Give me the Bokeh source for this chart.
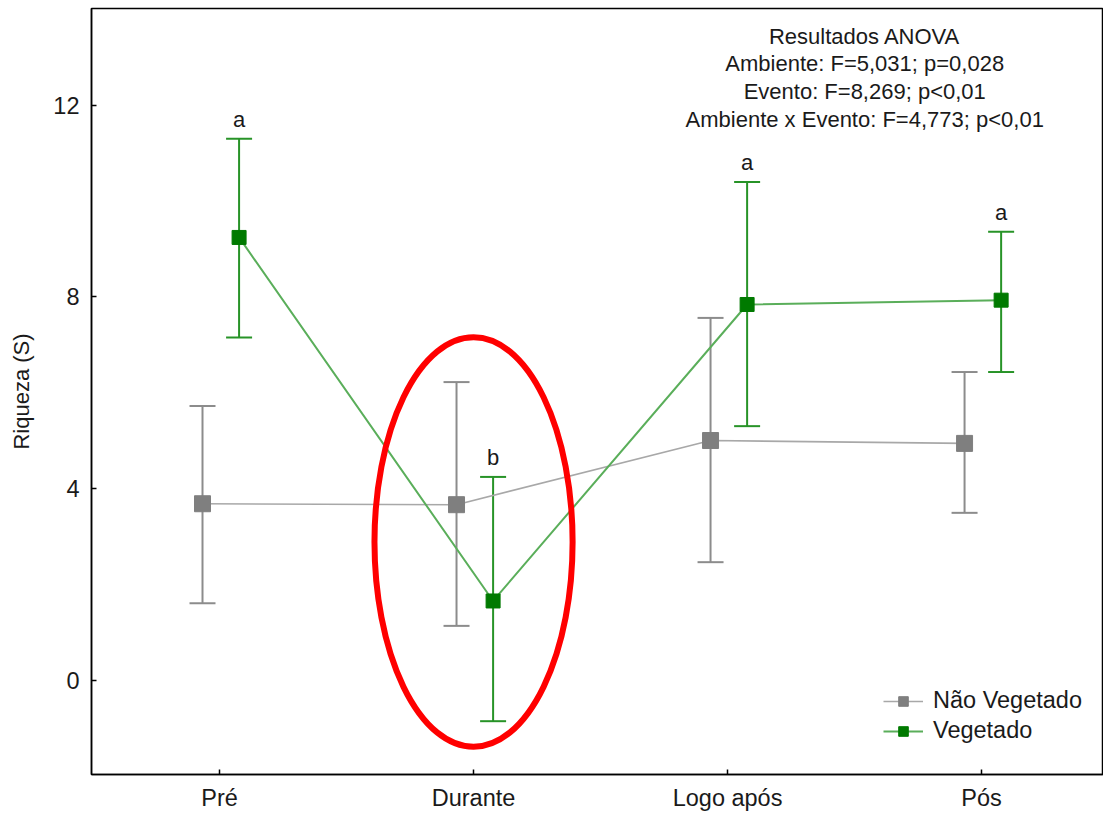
from bokeh.plotting import figure
from bokeh.models import ColumnDataSource, Whisker, TeeHead, Range1d, Legend, LegendItem, Label
from bokeh.embed import file_html
from bokeh.resources import INLINE
from bokeh.core.properties import value

# ---------------- data ----------------
categories = ["Pré", "Durante", "Logo após", "Pós"]
series_names = ["Não Vegetado", "Vegetado"]

nv_mean = [3.68, 3.66, 5.00, 4.94]
nv_upper = [5.72, 6.22, 7.56, 6.43]
nv_lower = [1.60, 1.13, 2.46, 3.49]

v_mean = [9.24, 1.65, 7.84, 7.93]
v_upper = [11.30, 4.24, 10.40, 9.36]
v_lower = [7.15, -0.86, 5.30, 6.43]
v_letters = ["a", "b", "a", "a"]

y_ticks = [0, 4, 8, 12]
y_label = "Riqueza (S)"

anova_lines = [
    "Resultados ANOVA",
    "Ambiente: F=5,031; p=0,028",
    "Evento: F=8,269; p<0,01",
    "Ambiente x Evento: F=4,773; p<0,01",
]

highlight_category = "Durante"
highlight_center_y = 2.88
highlight_width = 0.78
highlight_height = 8.55

# ---------------- style ----------------
FONT = "Liberation Sans"
TXT = "#1a1a1a"
NV_LINE, NV_BAR, NV_MARK = "#a8a8a8", "#8c8c8c", "#7f7f7f"
V_LINE, V_BAR, V_MARK = "#5aae5a", "#279327", "#007a00"
off_nv, off_v = -0.067, 0.077

idx = list(range(len(categories)))
nv_x = [i + off_nv for i in idx]
v_x = [i + off_v for i in idx]

p = figure(width=1103, height=814, output_backend="svg", toolbar_location=None,
           x_range=Range1d(-0.504, 3.48), y_range=Range1d(-1.973, 14.02),
           min_border_left=91, min_border_right=0, min_border_top=8, min_border_bottom=40)
p.background_fill_color = "white"
p.border_fill_color = "white"
p.outline_line_color = "black"
p.outline_line_width = 1.5
p.xgrid.visible = False
p.ygrid.visible = False

for ax in (p.xaxis[0], p.yaxis[0]):
    ax.axis_line_color = "black"
    ax.axis_line_width = 1.5
    ax.major_tick_in = 5
    ax.major_tick_out = 0
    ax.major_tick_line_color = "black"
    ax.major_tick_line_width = 1.5
    ax.minor_tick_line_color = None
    ax.major_label_text_font = FONT
    ax.major_label_text_font_size = "23.5px"
    ax.major_label_text_color = TXT

p.xaxis.ticker = idx
p.xaxis.major_label_overrides = {i: c for i, c in zip(idx, categories)}
p.xaxis.major_label_standoff = 10
p.yaxis.ticker = y_ticks
p.yaxis.major_label_standoff = 12
p.yaxis.axis_label = y_label
p.yaxis.axis_label_text_font = FONT
p.yaxis.axis_label_text_font_size = "22px"
p.yaxis.axis_label_text_font_style = "normal"
p.yaxis.axis_label_text_color = TXT
p.yaxis.axis_label_standoff = 16

src_nv = ColumnDataSource(dict(x=nv_x, m=nv_mean, up=nv_upper, lo=nv_lower))
src_v = ColumnDataSource(dict(x=v_x, m=v_mean, up=v_upper, lo=v_lower, t=v_letters))

for src, col in ((src_nv, NV_BAR), (src_v, V_BAR)):
    w = Whisker(base="x", upper="up", lower="lo", source=src, dimension="height",
                line_color=col, line_width=2,
                upper_head=TeeHead(size=26, line_color=col, line_width=2),
                lower_head=TeeHead(size=26, line_color=col, line_width=2))
    p.add_layout(w)

nv_line = p.line("x", "m", source=src_nv, line_color=NV_LINE, line_width=1.6)
v_line = p.line("x", "m", source=src_v, line_color=V_LINE, line_width=2)
nv_pts = p.scatter("x", "m", source=src_nv, marker="square", size=16,
                   fill_color=NV_MARK, line_color=NV_MARK)
v_pts = p.scatter("x", "m", source=src_v, marker="square", size=14,
                  fill_color=V_MARK, line_color=V_MARK)

p.text("x", "up", text="t", source=src_v, text_align="center", text_baseline="bottom",
       y_offset=-7, text_font=value(FONT), text_font_size="22px", text_color=TXT)

for i, line in enumerate(anova_lines):
    p.add_layout(Label(x=2.54, y=13.44 - i * 0.577, text=line, text_align="center",
                       text_baseline="middle", text_font=FONT, text_font_size="22px",
                       text_color=TXT))

legend = Legend(items=[
    LegendItem(label=series_names[0], renderers=[nv_line, nv_pts]),
    LegendItem(label=series_names[1], renderers=[v_line, v_pts]),
], location=(792, 30), glyph_width=40, glyph_height=24, spacing=3,
    label_standoff=10, padding=0, margin=0,
    label_text_font=FONT, label_text_font_size="23.5px", label_text_color=TXT,
    border_line_alpha=0, background_fill_alpha=0)
p.add_layout(legend)

p.ellipse(x=[categories.index(highlight_category)], y=[highlight_center_y],
          width=highlight_width, height=highlight_height,
          fill_alpha=0, line_color="#ff0000", line_width=6)

open("out.html", "w").write(file_html(p, INLINE))
